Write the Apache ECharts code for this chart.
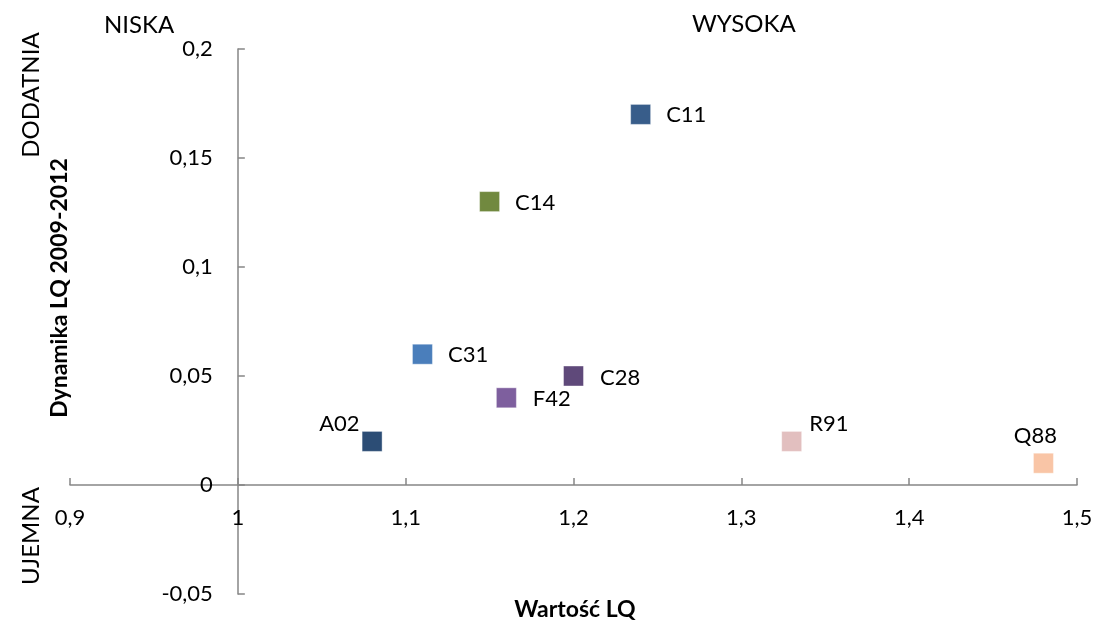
<!DOCTYPE html>
<html><head><meta charset="utf-8">
<script src="https://cdn.jsdelivr.net/npm/echarts@6/dist/echarts.min.js"></script>
<style>html,body{margin:0;padding:0;background:#fff}#c{width:1096px;height:624px}</style>
</head><body><div id="c"></div>
<script>
const names = ['C11','C14','C31','C28','F42','A02','R91','Q88'];
const xValues = [1.24, 1.15, 1.11, 1.20, 1.16, 1.08, 1.33, 1.48];
const yValues = [0.17, 0.13, 0.06, 0.05, 0.04, 0.02, 0.02, 0.01];
const colors = ['#385D8A','#71893F','#4A7EBB','#5F497A','#7E5F9E','#2C4D75','#E2BFBF','#F9C5A6'];
const xTitle = 'Wartość LQ';
const yTitle = 'Dynamika LQ 2009-2012';

const FONT = 'Lato';
const labelCfg = {
  C11:{position:'right',distance:15,offset:[0,1]},
  C14:{position:'right',distance:15,offset:[0,1]},
  C31:{position:'right',distance:15,offset:[0,1]},
  C28:{position:'right',distance:16,offset:[0,2]},
  F42:{position:'right',distance:16,offset:[0,1]},
  A02:{position:'left',distance:2,offset:[0,-17]},
  R91:{position:'right',distance:7,offset:[0,-17]},
  Q88:{position:'top',distance:6,offset:[-8,0]}
};
const fmt = v => String(+v.toFixed(2)).replace('.', ',');
const chart = echarts.init(document.getElementById('c'));
const gridLeft = 70, gridRight = 19, gridTop = 49, gridBottom = 30, W = 1096, H = 624;
const plotW = W - gridLeft - gridRight;
const plotH = H - gridTop - gridBottom;
const yOffset = -plotW * (1.0 - 0.9) / 0.6;
const xOffset = -plotH * (0 - (-0.05)) / 0.25;
chart.setOption({
  animation:false,
  textStyle:{fontFamily:FONT},
  grid:{left:gridLeft,right:gridRight,top:gridTop,bottom:gridBottom,containLabel:false,outerBoundsMode:'none'},
  xAxis:{type:'value',min:0.9,max:1.5,interval:0.1,position:'bottom',offset:xOffset,
    axisLine:{onZero:false,lineStyle:{color:'#868686',width:1.5}},
    axisTick:{inside:true,length:7,lineStyle:{color:'#868686',width:1.5}},
    axisLabel:{formatter:fmt,color:'#000',fontSize:22,fontFamily:FONT,margin:22},
    splitLine:{show:false}},
  yAxis:{type:'value',min:-0.05,max:0.2,interval:0.05,position:'left',offset:yOffset,
    axisLine:{show:true,onZero:false,lineStyle:{color:'#868686',width:1.5}},
    axisTick:{show:true,inside:true,length:7,lineStyle:{color:'#868686',width:1.5}},
    axisLabel:{formatter:fmt,color:'#000',fontSize:22,fontFamily:FONT,margin:25},
    splitLine:{show:false}},
  series:names.map((n,i)=>({
    type:'scatter',name:n,symbol:'rect',symbolSize:20,
    itemStyle:{color:colors[i],opacity:1,borderColor:'rgba(255,255,255,0.4)',borderWidth:1},
    data:[[xValues[i],yValues[i]]],
    label:Object.assign({show:true,formatter:n,color:'#000',fontSize:22,fontFamily:FONT},labelCfg[n])
  })),
  graphic:[
    {type:'text',left:104,top:13,style:{text:'NISKA',font:'24px '+FONT,fill:'#000'}},
    {type:'text',left:692,top:12,style:{text:'WYSOKA',font:'24px '+FONT,fill:'#000'}},
    {type:'text',x:31,y:95,rotation:Math.PI/2,style:{text:'DODATNIA',font:'24px '+FONT,fill:'#000',align:'center',verticalAlign:'middle'}},
    {type:'text',x:31,y:536,rotation:Math.PI/2,style:{text:'UJEMNA',font:'24px '+FONT,fill:'#000',align:'center',verticalAlign:'middle'}},
    {type:'text',x:60,y:288,rotation:Math.PI/2,style:{text:yTitle,font:'bold 23px '+FONT,fill:'#000',align:'center',verticalAlign:'middle'}},
    {type:'text',x:575,y:610,style:{text:xTitle,font:'bold 23px '+FONT,fill:'#000',align:'center',verticalAlign:'middle'}}
  ]
});
</script></body></html>
